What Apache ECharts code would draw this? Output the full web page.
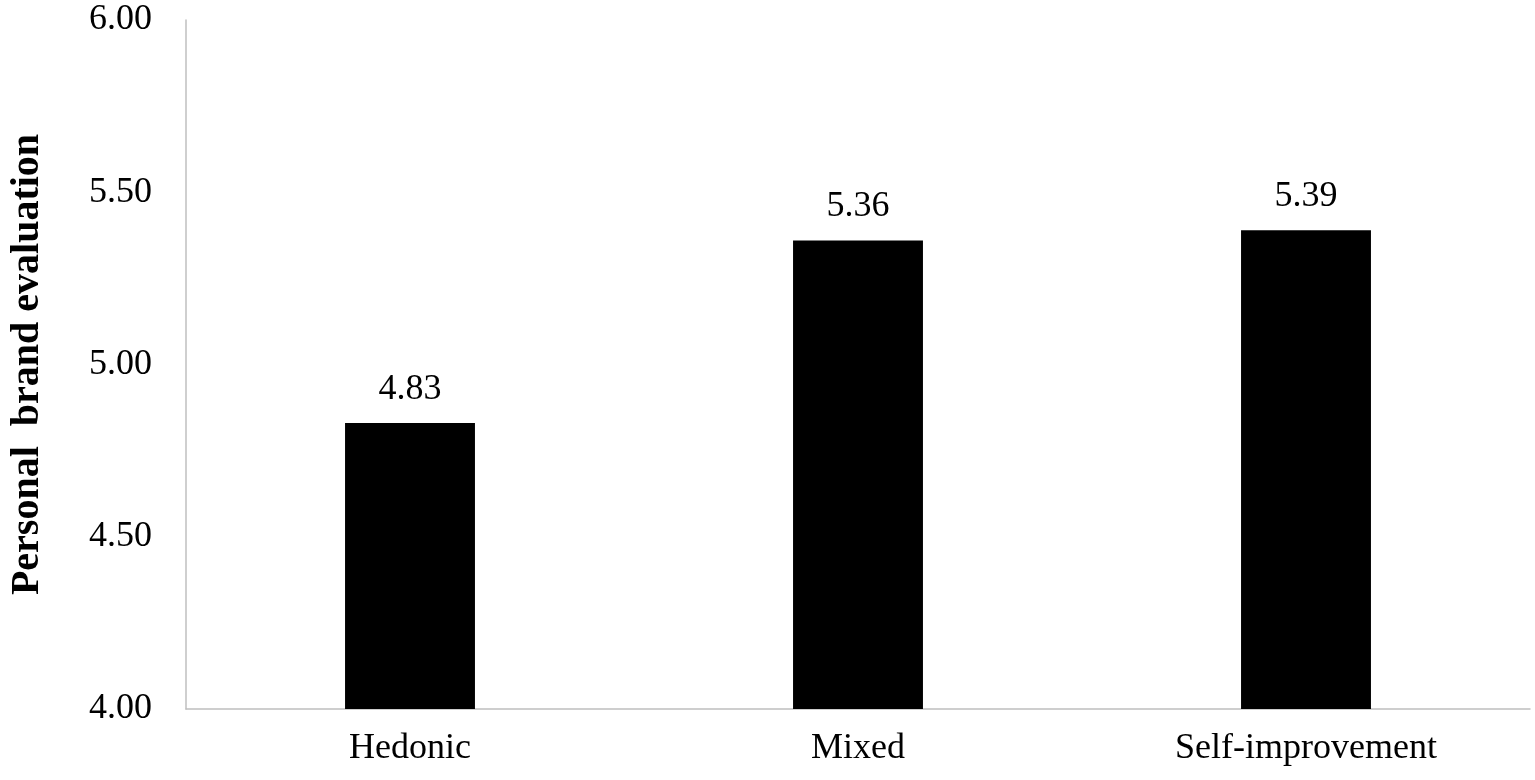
<!DOCTYPE html>
<html><head><meta charset="utf-8">
<script src="https://cdn.jsdelivr.net/npm/echarts@6/dist/echarts.min.js"></script>
<style>html,body{margin:0;padding:0;background:#fff}#c{width:1535px;height:780px}</style>
</head><body><div id="c"></div>
<script>
const categories = ['Hedonic', 'Mixed', 'Self-improvement'];
const values = [4.83, 5.36, 5.39];
const yTicks = [4.0, 4.5, 5.0, 5.5, 6.0];
const chart = echarts.init(document.getElementById('c'));
const F = 'Liberation Serif, Times New Roman, serif';
chart.setOption({
  animation: false,
  grid: {left: 178, right: 5, top: 20, bottom: 71, containLabel: false},
  xAxis: {type: 'category', data: categories,
    axisLine: {lineStyle: {color: '#bfbfbf', width: 1.5}}, axisTick: {show: false},
    axisLabel: {color: '#000', fontFamily: F, fontSize: 36, margin: 22}},
  yAxis: {type: 'value', min: yTicks[0], max: yTicks[yTicks.length-1], interval: 0.5,
    name: 'Personal  brand evaluation', nameLocation: 'middle', nameGap: 138,
    nameTextStyle: {color: '#000', fontFamily: F, fontSize: 40, fontWeight: 'bold'},
    axisLine: {show: true, lineStyle: {color: '#bfbfbf', width: 1.5}}, axisTick: {show: false},
    splitLine: {show: false},
    axisLabel: {color: '#000', fontFamily: F, fontSize: 36, margin: 34,
      formatter: v => v.toFixed(2)}},
  series: [{type: 'bar', data: values, barWidth: '29%', itemStyle: {color: '#000'},
    label: {show: true, position: 'top', distance: 16, color: '#000', fontFamily: F, fontSize: 36,
      formatter: p => p.value.toFixed(2)}}]
});
</script></body></html>
